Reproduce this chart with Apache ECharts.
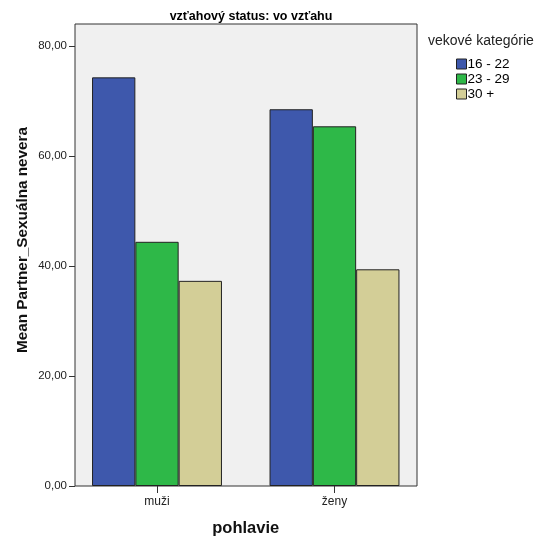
<!DOCTYPE html>
<html>
<head>
<meta charset="utf-8">
<script src="https://cdn.jsdelivr.net/npm/echarts@6/dist/echarts.min.js"></script>
<style>html,body{margin:0;padding:0;background:#fff;}#c{width:549px;height:548px;}</style>
</head>
<body>
<div id="c"></div>
<script>
const categories = ['muži', 'ženy'];
const seriesNames = ['16 - 22', '23 - 29', '30 +'];
const values1622 = [74.3, 68.5];
const values2329 = [44.4, 65.4];
const values30 = [37.3, 39.4];
const yTicks = [0, 20, 40, 60, 80];

const colors = ['#3e58ac', '#2eb848', '#d3ce97'];
const font = 'Liberation Sans, Arial, sans-serif';
const chart = echarts.init(document.getElementById('c'), null, {renderer: 'canvas'});
const allValues = [values1622, values2329, values30];

const option = {
  animation: false,
  title: {
    text: 'vzťahový status: vo vzťahu',
    left: 246, top: 5, textAlign: 'center',
    textStyle: {fontFamily: font, fontSize: 12.5, fontWeight: 'bold', color: '#000'}
  },
  legend: {
    orient: 'vertical',
    left: 456, top: 57, padding: 0,
    itemWidth: 10, itemHeight: 10, itemGap: 1,
    textStyle: {fontFamily: font, fontSize: 13.5, color: '#000', padding: [0,0,0,-4], lineHeight: 14},
    data: seriesNames.map((n, i) => ({name: n, icon: 'rect', itemStyle: {color: colors[i], borderColor: '#222', borderWidth: 1}}))
  },
  graphic: [{
    type: 'text', left: 428, top: 34,
    style: {text: 'vekové kategórie', font: '14px ' + font, fill: '#222'}
  }],
  grid: [
    {left: 75, top: 24, width: 342, height: 462, show: true, backgroundColor: '#f0f0f0', borderColor: '#333', borderWidth: 1, containLabel: false, outerBoundsMode: 'none'},
    {left: 68.25, top: 24, width: 355, height: 462, show: false, containLabel: false, outerBoundsMode: 'none'}
  ],
  xAxis: [
    {gridIndex: 0, type: 'category', data: categories, show: false},
    {gridIndex: 1, type: 'category', data: categories,
     axisLine: {show: false},
     axisTick: {show: true, alignWithLabel: true, length: 7, lineStyle: {color: '#333'}},
     axisLabel: {fontFamily: font, fontSize: 12, color: '#222', margin: 10},
     name: 'pohlavie', nameLocation: 'middle', nameGap: 34, nameMoveOverlap: false,
     nameTextStyle: {fontFamily: font, fontSize: 16.5, fontWeight: 'bold', color: '#111'}}
  ],
  yAxis: [
    {gridIndex: 0, type: 'value', min: 0, max: 84, interval: 20,
     splitLine: {show: false},
     axisLine: {show: false},
     axisTick: {show: true, length: 6, lineStyle: {color: '#333'}, customValues: yTicks},
     axisLabel: {fontFamily: font, fontSize: 11.5, color: '#222', margin: 8, customValues: yTicks,
       formatter: v => yTicks.includes(v) ? v.toFixed(2).replace('.', ',') : ''},
     name: 'Mean Partner_Sexuálna nevera', nameLocation: 'middle', nameGap: 45, nameMoveOverlap: false,
     nameTextStyle: {fontFamily: font, fontSize: 15.3, fontWeight: 'bold', color: '#111', padding: [0,0,0,30]}},
    {gridIndex: 1, type: 'value', min: 0, max: 84, show: false}
  ],
  series: seriesNames.map((n, i) => ({
    name: n, type: 'bar', xAxisIndex: 1, yAxisIndex: 1,
    data: allValues[i],
    barGap: '0%', barCategoryGap: '26.8%',
    itemStyle: {color: colors[i], borderColor: '#222', borderWidth: 1}
  }))
};
chart.setOption(option);
</script>
</body>
</html>
